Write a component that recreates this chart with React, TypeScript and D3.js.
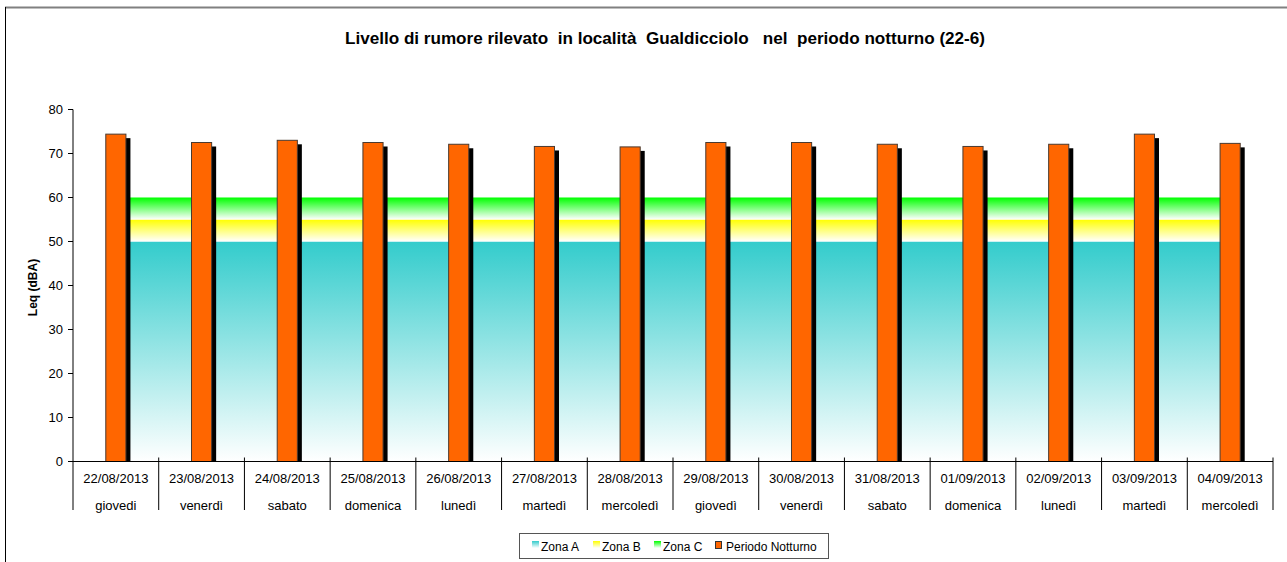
import React from 'react';
import * as d3 from 'd3';

// chart data
const dates = ['22/08/2013', '23/08/2013', '24/08/2013', '25/08/2013', '26/08/2013', '27/08/2013', '28/08/2013',
  '29/08/2013', '30/08/2013', '31/08/2013', '01/09/2013', '02/09/2013', '03/09/2013', '04/09/2013'];
const days = ['giovedi', 'venerdì', 'sabato', 'domenica', 'lunedì', 'martedì', 'mercoledì',
  'giovedì', 'venerdì', 'sabato', 'domenica', 'lunedì', 'martedì', 'mercoledì'];
const leqNight = [74.4, 72.5, 73.0, 72.5, 72.1, 71.6, 71.5, 72.5, 72.5, 72.1, 71.6, 72.1, 74.4, 72.3];
const zones = [
  { name: 'Zona A', from: 0, to: 50, color: '#33CCCC', id: 'gzA' },
  { name: 'Zona B', from: 50, to: 55, color: '#FFFF00', id: 'gzB' },
  { name: 'Zona C', from: 55, to: 60, color: '#00FF00', id: 'gzC' },
];
const yTicks = [0, 10, 20, 30, 40, 50, 60, 70, 80];

const W = 1287;
const H = 562;
const font = 'Arial, "Liberation Sans", sans-serif';

const App = () => {
  // plot area
  const left = 73, right = 1273, top = 109.5, bottom = 461.5;

  const x = d3.scaleBand().domain(dates).range([left, right]).padding(0);
  const y = d3.scaleLinear().domain([0, 80]).range([bottom, top]);
  const bw = x.bandwidth() * 0.235;
  const cx = (d: string) => (x(d) as number) + x.bandwidth() / 2;

  const zoneX0 = cx(dates[0]);
  const zoneX1 = cx(dates[dates.length - 1]);

  return (
    <svg width={W} height={H} style={{ position: 'absolute', left: 0, top: 0, background: '#fff' }} fontFamily={font}>
      <defs>
        {zones.map(z => (
          <linearGradient key={z.id} id={z.id} x1="0" y1="0" x2="0" y2="1">
            <stop offset="0" stopColor={z.color} />
            <stop offset="1" stopColor="#ffffff" stopOpacity={1} />
          </linearGradient>
        ))}
        <clipPath id="plotClip">
          <rect x={left} y={0} width={right - left} height={bottom} />
        </clipPath>
      </defs>

      {/* chart frame */}
      <line x1={5} y1={7.5} x2={W} y2={7.5} stroke="#808080" strokeWidth={2} />
      <line x1={5.5} y1={7} x2={5.5} y2={H} stroke="#000" strokeWidth={1} />

      {/* title */}
      <text x={665} y={44} textAnchor="middle" fontSize={16} fontWeight="bold" textLength={640}
        lengthAdjust="spacingAndGlyphs" style={{ whiteSpace: 'pre' }}>
        {'Livello di rumore rilevato  in località  Gualdicciolo   nel  periodo notturno (22-6)'}
      </text>

      {/* zone bands */}
      {zones.map(z => (
        <rect key={z.name} x={zoneX0} y={y(z.to)} width={zoneX1 - zoneX0} height={y(z.from) - y(z.to)} fill={`url(#${z.id})`} />
      ))}

      {/* bars with shadow */}
      <g clipPath="url(#plotClip)">
        {dates.map((d, i) => (
          <rect key={'s' + d} x={cx(d) - bw / 2 + 4.5} y={y(leqNight[i]) + 4} width={bw} height={bottom - y(leqNight[i])} fill="#000" />
        ))}
      </g>
      {dates.map((d, i) => (
        <rect key={'b' + d} x={cx(d) - bw / 2} y={y(leqNight[i])} width={bw} height={bottom - y(leqNight[i])}
          fill="#FF6600" stroke="#4a3a30" strokeWidth={1} />
      ))}

      {/* y axis */}
      <line x1={left} y1={top} x2={left} y2={bottom} stroke="#000" />
      {yTicks.map(t => (
        <g key={t}>
          <line x1={left - 5} x2={left} y1={y(t)} y2={y(t)} stroke="#000" />
          <text x={left - 10} y={y(t)} dy="0.35em" textAnchor="end" fontSize={13}>{t}</text>
        </g>
      ))}
      <text transform={`translate(37,${(top + bottom) / 2 + 2}) rotate(-90)`} textAnchor="middle" fontSize={12} fontWeight="bold">Leq (dBA)</text>

      {/* x axis */}
      <line x1={left} x2={right} y1={bottom} y2={bottom} stroke="#000" />
      {d3.range(dates.length + 1).map(i => {
        const xx = left + i * x.bandwidth();
        return <line key={'d' + i} x1={xx} x2={xx} y1={i === 0 ? bottom : bottom - 4} y2={510} stroke="#000" />;
      })}
      {dates.map((d, i) => (
        <g key={'l' + d}>
          <text x={cx(d)} y={483} textAnchor="middle" fontSize={13}>{d}</text>
          <text x={cx(d)} y={510} textAnchor="middle" fontSize={13}>{days[i]}</text>
        </g>
      ))}

      {/* legend */}
      <rect x={519.5} y={533.5} width={309} height={25} fill="#fff" stroke="#555" />
      {zones.map((z, i) => {
        const sx = [532, 593, 654][i];
        return (
          <g key={'lg' + z.name}>
            <rect x={sx} y={541} width={7} height={7} fill={`url(#${z.id})`} />
            <text x={sx + 9} y={551} fontSize={12}>{z.name}</text>
          </g>
        );
      })}
      <rect x={715.5} y={541.5} width={6} height={7} fill="#FF6600" stroke="#333" />
      <text x={726} y={551} fontSize={12}>Periodo Notturno</text>
    </svg>
  );
};

export default App;
